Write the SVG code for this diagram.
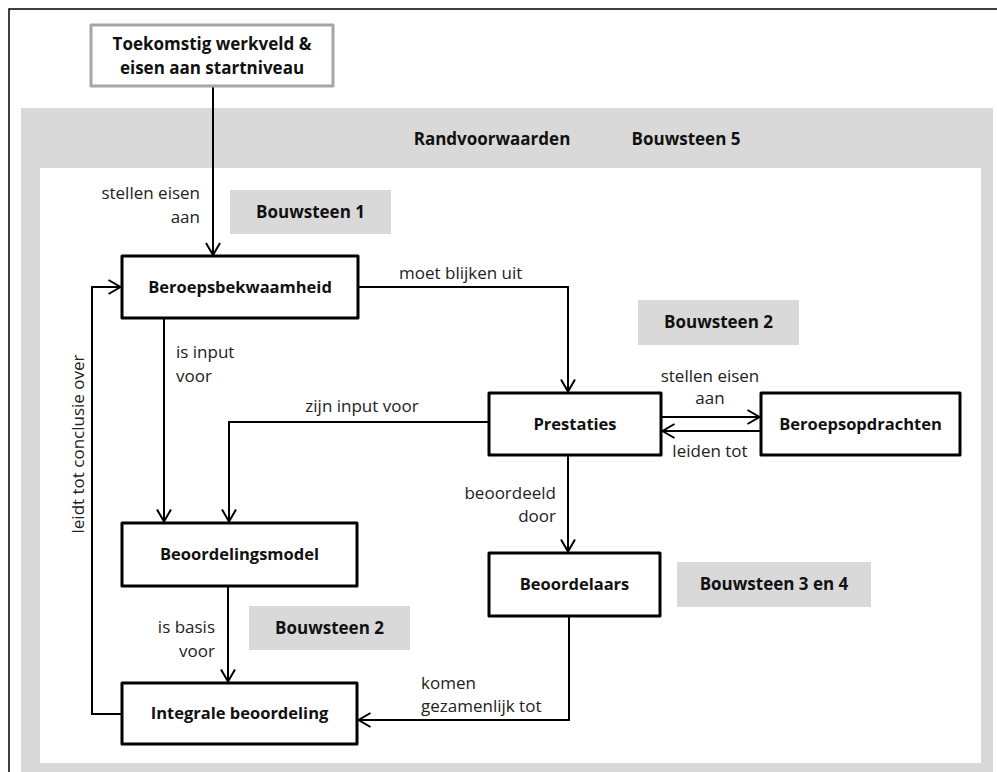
<svg xmlns="http://www.w3.org/2000/svg" width="997" height="772" viewBox="0 0 997 772">
<style>
.node rect{fill:#fff;stroke:#000;stroke-width:3;stroke-linejoin:round}
.nt{font-family:"Open Sans","Liberation Sans",sans-serif;font-weight:bold;font-size:16.5px;fill:#111;text-anchor:middle}
.bt{font-family:"Open Sans","Liberation Sans",sans-serif;font-weight:bold;font-size:17px;fill:#111;text-anchor:middle}
.lb{font-family:"Open Sans","Liberation Sans",sans-serif;font-size:17px;fill:#222}
.band{fill:#d9d9d9}
.conn path{fill:none;stroke:#000;stroke-width:2}
</style>
<defs>
<marker id="arr" viewBox="-14 -9 16 18" refX="0" refY="0" markerWidth="16" markerHeight="18" markerUnits="userSpaceOnUse" orient="auto">
<path d="M-12,-7 L0,0 L-12,7" fill="none" stroke="#000" stroke-width="2"/>
</marker>
</defs>
<rect width="997" height="772" fill="#fff"/>
<path d="M9,772 V9 H997" fill="none" stroke="#000" stroke-width="1.5"/>
<rect x="21" y="108" width="972" height="680" class="band"/>
<rect x="40" y="168" width="941" height="595" fill="#fff"/>
<g id="randvoorwaarden">
<text x="492" y="145" class="bt">Randvoorwaarden</text>
<text x="686" y="145" class="bt">Bouwsteen 5</text>
</g>
<g id="bouwsteen1"><rect x="230" y="190" width="161" height="44" class="band"/><text x="310.5" y="218" class="bt">Bouwsteen 1</text></g>
<g id="bouwsteen2a"><rect x="638" y="300" width="161" height="45" class="band"/><text x="718.5" y="328" class="bt">Bouwsteen 2</text></g>
<g id="bouwsteen2b"><rect x="249" y="606" width="161" height="44" class="band"/><text x="329.5" y="634" class="bt">Bouwsteen 2</text></g>
<g id="bouwsteen34"><rect x="677" y="562" width="194" height="45" class="band"/><text x="774" y="590" class="bt">Bouwsteen 3 en 4</text></g>
<g class="conn" id="connectors">
<path d="M213,86 V255" marker-end="url(#arr)"/>
<path d="M358,287 H568 V391.5" marker-end="url(#arr)"/>
<path d="M164,318 V521.5" marker-end="url(#arr)"/>
<path d="M489,422 H229 V521.5" marker-end="url(#arr)"/>
<path d="M661,417 H759.5" marker-end="url(#arr)"/>
<path d="M761,431 H662.5" marker-end="url(#arr)"/>
<path d="M568,455 V551.5" marker-end="url(#arr)"/>
<path d="M228,586 V681.5" marker-end="url(#arr)"/>
<path d="M569,616 V720 H358.5" marker-end="url(#arr)"/>
<path d="M122,714 H92 V287 H120.5" marker-end="url(#arr)"/>
</g>
<g id="labels">
<text class="lb" x="200" y="199" text-anchor="end">stellen eisen</text>
<text class="lb" x="200" y="223" text-anchor="end">aan</text>
<text class="lb" x="399" y="279">moet blijken uit</text>
<text class="lb" x="176" y="358">is input</text>
<text class="lb" x="176" y="382">voor</text>
<text class="lb" x="362" y="412" text-anchor="middle">zijn input voor</text>
<text class="lb" x="710" y="382" text-anchor="middle">stellen eisen</text>
<text class="lb" x="710" y="404" text-anchor="middle">aan</text>
<text class="lb" x="710" y="457" text-anchor="middle">leiden tot</text>
<text class="lb" x="556" y="499" text-anchor="end">beoordeeld</text>
<text class="lb" x="556" y="522" text-anchor="end">door</text>
<text class="lb" x="215" y="633" text-anchor="end">is basis</text>
<text class="lb" x="215" y="657" text-anchor="end">voor</text>
<text class="lb" x="421" y="689">komen</text>
<text class="lb" x="421" y="712">gezamenlijk tot</text>
<text class="lb" transform="translate(84,444) rotate(-90)" text-anchor="middle">leidt tot conclusie over</text>
</g>
<g id="toekomstig"><rect x="91" y="25" width="242" height="61" fill="#fff" stroke="#a6a6a6" stroke-width="3" stroke-linejoin="round"/>
<text x="212" y="50" class="bt">Toekomstig werkveld &amp;</text>
<text x="212" y="74" class="bt">eisen aan startniveau</text></g>
<g id="beroepsbekwaamheid" class="node"><rect x="122" y="256" width="236" height="62"/><text x="240" y="293" class="nt">Beroepsbekwaamheid</text></g>
<g id="prestaties" class="node"><rect x="489" y="393" width="172" height="62"/><text x="575" y="430" class="nt">Prestaties</text></g>
<g id="beroepsopdrachten" class="node"><rect x="761" y="393" width="199" height="62"/><text x="860.5" y="430" class="nt">Beroepsopdrachten</text></g>
<g id="beoordelingsmodel" class="node"><rect x="122" y="523" width="235" height="63"/><text x="239.5" y="560" class="nt">Beoordelingsmodel</text></g>
<g id="beoordelaars" class="node"><rect x="489" y="553" width="171" height="63"/><text x="574.5" y="590" class="nt">Beoordelaars</text></g>
<g id="integrale" class="node"><rect x="122" y="683" width="235" height="61"/><text x="239.5" y="719" class="nt">Integrale beoordeling</text></g>
</svg>
